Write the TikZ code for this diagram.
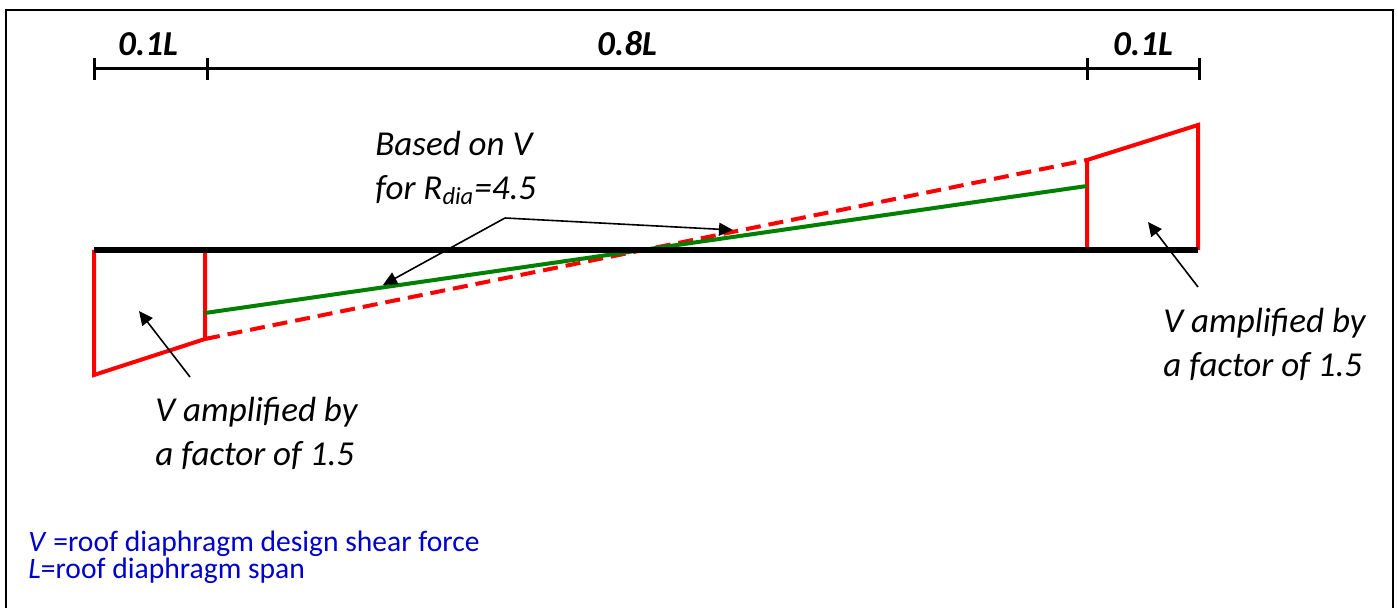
\documentclass[tikz,border=0pt]{standalone}
\usepackage{fontspec}
\setmainfont{Carlito}
\usetikzlibrary{arrows.meta,positioning}
\usepackage{xcolor}
\definecolor{cortante}{RGB}{255,0,0}
\definecolor{reducido}{RGB}{0,128,0}
\definecolor{leyenda}{RGB}{0,0,204}

\tikzset{
  cota/.style={line width=1.5pt},
  viga/.style={line width=3pt},
  ampl/.style={draw=cortante, line width=2pt},
  flecha/.style={line width=0.8pt, -{Triangle[length=7pt,width=6.5pt]}},
  rotulo/.style={font=\itshape\fontsize{17.5}{22}\selectfont, align=left, inner sep=0pt, anchor=west},
  tramo/.style={font=\bfseries\itshape\fontsize{17.5}{22}\selectfont, inner sep=0pt},
  nota/.style={anchor=base west, inner sep=0pt, text=leyenda, font=\fontsize{14.8}{18}\selectfont}
}

\begin{document}
\begin{tikzpicture}[x=0.5pt,y=-0.5pt]
\clip (0,0) rectangle (1398,608);
\draw[line width=1pt] (6,620) -- (6,10) -- (1393,10) -- (1393,620);

% cotas
\coordinate (c0) at (94,69);
\coordinate (c1) at (207,69);
\coordinate (c2) at (1087,69);
\coordinate (c3) at (1199,69);
\draw[cota] (c0) -- (c3);
\foreach \c in {c0,c1,c2,c3}
  \draw[cota] ([yshift=-5.5pt]\c) -- ([yshift=5.5pt]\c);
\node[tramo] (t1) at (148,44) {0.1L};
\node[tramo] (t2) at (627,44) {0.8L};
\node[tramo] (t3) at (1143,44) {0.1L};

% viga y cortantes
\coordinate (v0) at (94,250);
\coordinate (v1) at (205,250);
\coordinate (v2) at (1087,250);
\coordinate (v3) at (1198,250);
\coordinate (r0) at (94,375);
\coordinate (r1) at (205,339);
\coordinate (r2) at (1087,160);
\coordinate (r3) at (1198,125);
\coordinate (g1) at (205,313);
\coordinate (g2) at (1087,186);
\draw[ampl] (v0) -- (r0) -- (r1) -- (v1);
\draw[ampl] (v2) -- (r2) -- (r3) -- (v3);
\draw[cortante, line width=2pt, dash pattern=on 7.5pt off 4pt] (r1) -- (r2);
\draw[reducido, line width=2pt] (g1) -- (g2);
\draw[viga] (v0) -- (v3);

% notas
\node[rotulo] (base) at (375,168) {Based on V\\for R\textsubscript{dia}=4.5};
\coordinate (b0) at (505,218);
\coordinate (b1) at (383,285);
\coordinate (b2) at (733,230);
\draw[flecha] (b0) -- (b1);
\draw[flecha] (b0) -- (b2);

\node[rotulo] (izq) at (155,433) {V amplified by\\a factor of 1.5};
\coordinate (i0) at (190,377);
\coordinate (i1) at (139,311);
\draw[flecha] (i0) -- (i1);

\node[rotulo] (der) at (1163,344) {V amplified by\\a factor of 1.5};
\coordinate (d0) at (1198,287);
\coordinate (d1) at (1148,222);
\draw[flecha] (d0) -- (d1);

% leyenda
\node[nota] (ley1) at (28,552) {\textit{V} =roof diaphragm design shear force};
\node[nota] (ley2) at (28,579) {\textit{L}=roof diaphragm span};
\end{tikzpicture}
\end{document}
